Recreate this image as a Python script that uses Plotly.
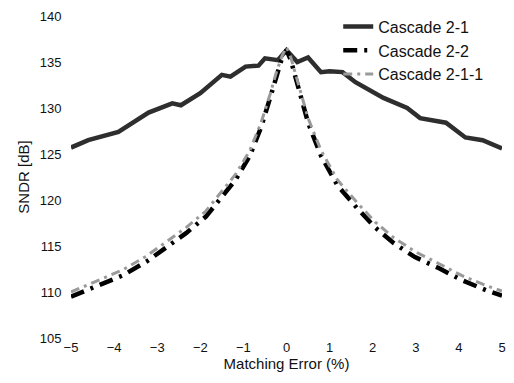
import plotly.graph_objects as go

x21 = [-5, -4.6, -3.9, -3.2, -2.65, -2.45, -2.0, -1.5, -1.3, -0.95, -0.65, -0.5, -0.2, 0,
       0.25, 0.5, 0.8, 1.0, 1.3, 1.6, 2.25, 2.8, 3.1, 3.7, 4.15, 4.55, 5]
y21 = [125.7, 126.5, 127.4, 129.5, 130.5, 130.3, 131.6, 133.6, 133.4, 134.5, 134.6, 135.4, 135.2, 136.3,
       135.0, 135.5, 133.9, 134.0, 133.9, 132.8, 131.1, 130.0, 128.9, 128.4, 126.8, 126.5, 125.6]

x22 = [-5, -4.33, -3.8, -3.25, -2.8, -2.33, -1.87, -1.5, -1.18, -0.85, -0.59, -0.38, -0.24, -0.1, 0,
       0.1, 0.2, 0.33, 0.5, 0.8, 1.18, 1.64, 2.06, 2.49, 2.98, 3.53, 4.06, 4.63, 5]
y22 = [109.5, 110.8, 111.8, 113.3, 114.8, 116.4, 118.2, 120.3, 122.2, 124.8, 127.9, 131.1, 133.5, 135.5, 136.3,
       135.2, 133.5, 131.1, 128.4, 124.8, 121.6, 119.1, 117.0, 115.3, 113.8, 112.6, 111.3, 110.2, 109.6]
y211 = [110.0, 111.3, 112.4, 113.9, 115.4, 117.0, 118.8, 120.9, 122.8, 125.4, 128.4, 131.5, 133.8, 135.7, 136.6,
        135.5, 133.8, 131.5, 128.9, 125.4, 122.2, 119.7, 117.6, 115.9, 114.4, 113.1, 111.8, 110.7, 110.1]

names = ["Cascade 2-1", "Cascade 2-2", "Cascade 2-1-1"]
xticks = [-5, -4, -3, -2, -1, 0, 1, 2, 3, 4, 5]
yticks = [105, 110, 115, 120, 125, 130, 135, 140]

fig = go.Figure()
fig.add_trace(go.Scatter(x=x21, y=y21, mode="lines", name=names[0],
                         line=dict(color="#2e2e2e", width=4.5)))
fig.add_trace(go.Scatter(x=x22, y=y22, mode="lines", name=names[1],
                         line=dict(color="#000000", width=4.5, dash="14px,7px,3px,7px")))
fig.add_trace(go.Scatter(x=x22, y=y211, mode="lines", name=names[2],
                         line=dict(color="#9a9a9a", width=3, dash="9px,5px,3px,5px")))

font = "Liberation Sans, Arial, sans-serif"
fig.update_layout(
    width=514, height=383,
    margin=dict(l=71, r=8, t=16, b=45),
    paper_bgcolor="white", plot_bgcolor="white",
    font=dict(family=font, size=13, color="#111111"),
    showlegend=True,
    legend=dict(x=0.62, y=1.02, xanchor="left", yanchor="top",
                bgcolor="rgba(0,0,0,0)", font=dict(size=16, family=font),
                tracegroupgap=0, itemwidth=30),
    xaxis=dict(range=[-5, 5], tickvals=xticks, showgrid=False, zeroline=False,
               showline=False, ticks="", ticklen=0,
               title=dict(text="Matching Error (%)", font=dict(size=15), standoff=0)),
    yaxis=dict(range=[105, 140], tickvals=yticks, showgrid=False, zeroline=False,
               showline=False, ticks="outside", ticklen=6, tickcolor="rgba(0,0,0,0)",
               title=dict(text="SNDR [dB]", font=dict(size=15), standoff=6)),
)

fig.write_html("out.html")
